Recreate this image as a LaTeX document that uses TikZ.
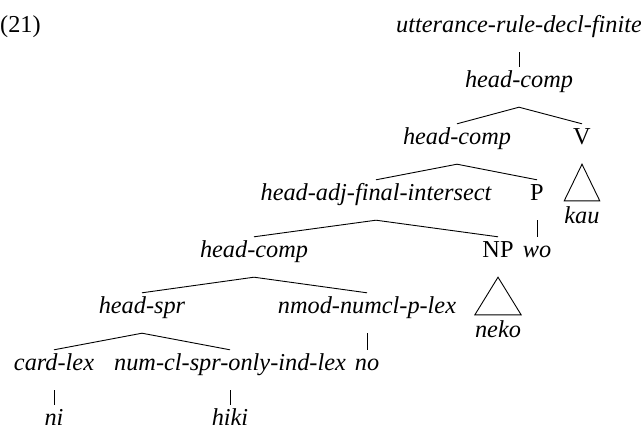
\documentclass[tikz,border=0pt]{standalone}
\usepackage{fontspec}
\setmainfont{Liberation Serif}[ItalicFont={Liberation Serif Italic}, UprightFont={Liberation Serif}]
\tikzset{
  lab/.style={anchor=base, inner sep=0pt, text height=20pt, text depth=20pt,
    font=\fontsize{24.3pt}{29pt}\selectfont\itshape},
  cat/.style={lab, font=\fontsize{24.3pt}{29pt}\selectfont\upshape},
  leaf/.style={lab, text height=22pt},
  bottom/.style={lab, text depth=1pt},
  edge/.style={line width=0.9pt, line join=miter},
}
\begin{document}
\begin{tikzpicture}[x=1pt,y=-1pt]
\fill[white] (0,0) rectangle (641,429);
\useasboundingbox (0,0) rectangle (641,429);
\node[cat, anchor=base west] (ex) at (0,32) {(21)};
\node[lab] (utt) at (519,32) {utterance-rule-decl-finite};
\node[lab] (hc1) at (519,87) {head-comp};
\node[lab] (hc2) at (457,144) {head-comp};
\node[cat] (V) at (582,144) {V};
\node[lab] (had) at (376,200) {head-adj-final-intersect};
\node[cat] (P) at (537,200) {P};
\node[leaf] (kau) at (582,223) {kau};
\node[lab] (hc3) at (254,257) {head-comp};
\node[cat] (NP) at (498,257) {NP};
\node[lab] (wo) at (537,257) {wo};
\node[lab] (hs) at (142,313) {head-spr};
\node[lab] (nmod) at (367,313) {nmod-numcl-p-lex};
\node[leaf] (neko) at (498,337) {neko};
\node[lab] (card) at (54,370) {card-lex};
\node[lab] (numcl) at (230,370) {num-cl-spr-only-ind-lex};
\node[lab] (no) at (367,370) {no};
\node[bottom] (ni) at (54,425) {ni};
\node[bottom] (hiki) at (230,425) {hiki};
\draw[edge] (utt.south) -- (hc1.north);
\draw[edge] (hc2.north) -- (hc1.south) -- (V.north);
\draw[edge] (had.north) -- (hc2.south) -- (P.north);
\draw[edge] (P.south) -- (wo.north);
\draw[edge] (hc3.north) -- (had.south) -- (NP.north);
\draw[edge] (hs.north) -- (hc3.south) -- (nmod.north);
\draw[edge] (card.north) -- (hs.south) -- (numcl.north);
\draw[edge] (nmod.south) -- (no.north);
\draw[edge] (card.south) -- (ni.north);
\draw[edge] (numcl.south) -- (hiki.north);
\draw[edge] (V.south) -- (kau.north west) -- (kau.north east) -- cycle;
\draw[edge] (NP.south) -- (neko.north west) -- (neko.north east) -- cycle;
\end{tikzpicture}
\end{document}
